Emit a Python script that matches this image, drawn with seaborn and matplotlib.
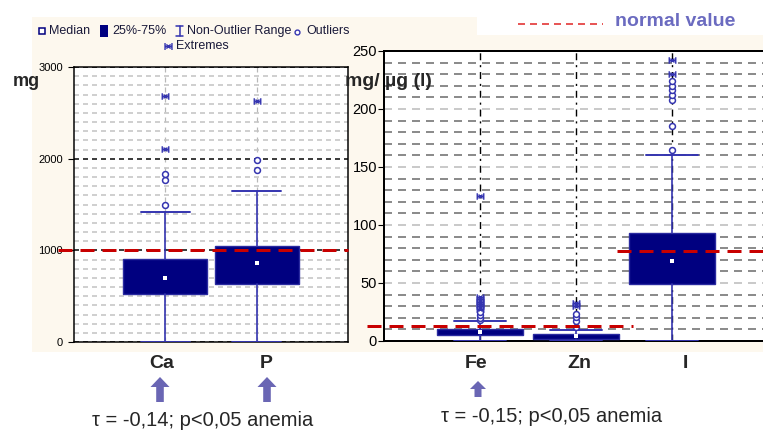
import numpy as np
import pandas as pd
import matplotlib
matplotlib.use("Agg")
import matplotlib.pyplot as plt
import seaborn as sns
from matplotlib.patches import Rectangle, Polygon
from matplotlib.path import Path

# ---------------- data ----------------
left_cats = ["Ca", "P"]
left_q1 = [522, 630]
left_med = [696, 858]
left_q3 = [902, 1043]
left_wlo = [0, 0]
left_whi = [1413, 1652]
ca_outliers = [1500, 1765, 1830]
ca_extremes = [2110, 2680]
p_outliers = [1880, 1990]
p_extremes = [2630]
left_norm = 1000

right_cats = ["Fe", "Zn", "I"]
right_q1 = [5.2, 1.7, 49]
right_med = [7.8, 4.3, 69]
right_q3 = [10.3, 6.0, 93]
right_wlo = [0, 0, 0]
right_whi = [17, 9.5, 160]
fe_outliers = [18, 20, 22, 25]
fe_extremes = [28, 30, 32, 34, 36, 38, 125]
zn_outliers = [12, 17, 21, 23]
zn_extremes = [30, 33]
i_outliers = [165, 185, 208, 212, 216, 220, 224]
i_extremes = [230, 242]
norm_fe_zn = 13
norm_i = 77.5

left_yticks = [0, 1000, 2000, 3000]
right_yticks = [0, 50, 100, 150, 200, 250]
legend_items = ["Median", "25%-75%", "Non-Outlier Range", "Outliers", "Extremes"]
stat_texts = ["\u03c4 = -0,14; p<0,05 anemia", "\u03c4 = -0,15; p<0,05 anemia"]

# ---------------- style ----------------
sns.set_style("white")
plt.rcParams['font.family'] = ['Liberation Sans', 'DejaVu Sans']
plt.rcParams['lines.scale_dashes'] = False

NAVY = "#000080"
EDGE = "#2a2aa0"
BLUE = "#3535b0"
RED = "#c80000"
CREAM = "#fdf8ee"
ARROW = "#6a66b4"
PX = 0.72  # points per pixel

# "extreme" marker: H-shape with a small cross (Statistica style)
_v = [(-1, -1), (-1, 1), (1, -1), (1, 1), (-1, 0), (1, 0), (-0.6, -0.6), (0.6, 0.6), (-0.6, 0.6), (0.6, -0.6)]
_c = [Path.MOVETO, Path.LINETO] * 5
EXT = Path(_v, _c)

W, H = 763, 430
fig = plt.figure(figsize=(W / 100, H / 100), dpi=100)
fig.patch.set_facecolor("white")


def fx(px):
    return px / W


def fy(py):
    return 1 - py / H


def dash(on, off):
    return (0, (on * PX, off * PX))


# backgrounds
fig.patches.append(Rectangle((fx(32), fy(352)), fx(763) - fx(32), fy(17) - fy(352),
                             transform=fig.transFigure, facecolor=CREAM, edgecolor="none", zorder=-2))
fig.patches.append(Rectangle((fx(477), fy(35)), 1 - fx(477), 1 - fy(35),
                             transform=fig.transFigure, facecolor="white", edgecolor="none", zorder=-1))

axL = fig.add_axes([fx(74), fy(342), (348 - 74) / W, (342 - 67) / H])
axR = fig.add_axes([fx(384), fy(341), (768 - 384) / W, (341 - 51) / H])


def draw_boxes(ax, q1, med, q3, wlo, whi, cats, width, capw):
    pos = list(range(1, len(cats) + 1))
    stats = [dict(med=m, q1=a, q3=b, whislo=lo, whishi=hi, fliers=[], label=c)
             for m, a, b, lo, hi, c in zip(med, q1, q3, wlo, whi, cats)]
    ax.bxp(stats, positions=pos, widths=width, capwidths=capw, patch_artist=True,
           showfliers=False, manage_ticks=False,
           boxprops=dict(facecolor=NAVY, edgecolor=EDGE, linewidth=1.0, zorder=3),
           whiskerprops=dict(color=BLUE, linewidth=1.2, zorder=3),
           capprops=dict(color=BLUE, linewidth=1.4, zorder=3),
           medianprops=dict(color=NAVY, linewidth=0))
    sns.scatterplot(x=pos, y=med, ax=ax, marker="s", s=9, color="white",
                    edgecolor="none", zorder=5, legend=False)


def draw_points(ax, groups, kind):
    xs, ys = [], []
    for i, vals in enumerate(groups):
        xs += [i + 1] * len(vals)
        ys += list(vals)
    df = pd.DataFrame({"x": xs, "y": ys})
    if kind == "out":
        sns.scatterplot(data=df, x="x", y="y", ax=ax, marker="o", s=18, color="white",
                        edgecolor=BLUE, linewidth=1.1, zorder=6, legend=False)
    else:
        sns.scatterplot(data=df, x="x", y="y", ax=ax, marker=EXT, s=22, color=BLUE,
                        edgecolor=BLUE, linewidth=1.0, zorder=6, legend=False)


# ---------------- left panel ----------------
axL.set_facecolor("white")
axL.set_ylim(0, 3000)
axL.set_xlim(0, 3)
axL.set_yticks(left_yticks)
axL.set_yticks(np.arange(0, 3001, 100), minor=True)
axL.set_xticks([1, 2])
axL.set_xticklabels([])
axL.set_axisbelow(True)
axL.grid(which="minor", axis="y", color="#c4c4c4", linewidth=1.2 * PX * 1.3, linestyle=dash(5, 4))
axL.grid(which="major", axis="y", color="black", linewidth=1.5 * PX, linestyle=dash(5, 4))
axL.grid(which="major", axis="x", color="#b8b8b8", linewidth=1.2 * PX, linestyle=dash(5, 5))
axL.tick_params(axis="y", which="major", direction="out", length=4, width=0.8, pad=4,
                labelsize=8, left=True, colors="black")
axL.tick_params(axis="y", which="minor", length=0)
axL.tick_params(axis="x", length=0)
for s in axL.spines.values():
    s.set_color("black")
    s.set_linewidth(1.5 * PX)

draw_boxes(axL, left_q1, left_med, left_q3, left_wlo, left_whi, left_cats, 0.92, 0.54)
draw_points(axL, [ca_outliers, p_outliers], "out")
draw_points(axL, [ca_extremes, p_extremes], "ext")
axL.set_xlim(0, 3)
axL.set_ylim(0, 3000)
axL.set_xlabel("")
axL.set_ylabel("")
axL.plot([-0.058, 1.0], [left_norm, left_norm], transform=axL.get_yaxis_transform(),
         color=RED, linewidth=3 * PX, linestyle=dash(14, 8), clip_on=False, zorder=7)

# ---------------- right panel ----------------
axR.set_facecolor("white")
axR.set_ylim(0, 250)
axR.set_xlim(0, 4)
axR.set_yticks(right_yticks)
axR.set_yticks(np.arange(0, 251, 10), minor=True)
axR.set_xticks([1, 2, 3])
axR.set_xticklabels([])
axR.set_axisbelow(True)
axR.grid(which="minor", axis="y", color="#8c8c8c", linewidth=2 * PX, linestyle=dash(8, 6))
axR.grid(which="major", axis="y", color="#cacaca", linewidth=2 * PX, linestyle=dash(8, 6))
axR.grid(which="major", axis="x", color="black", linewidth=1.4 * PX, linestyle=(0, (5, 3.5, 1.5, 3.5)))
axR.tick_params(axis="y", which="major", direction="out", length=4, width=0.8, pad=1,
                labelsize=10.5, left=True, colors="black")
axR.tick_params(axis="y", which="minor", length=0)
axR.tick_params(axis="x", length=0)
for s in axR.spines.values():
    s.set_color("black")
    s.set_linewidth(2 * PX)

draw_boxes(axR, right_q1, right_med, right_q3, right_wlo, right_whi, right_cats, 0.9, 0.55)
draw_points(axR, [fe_outliers, zn_outliers, i_outliers], "out")
draw_points(axR, [fe_extremes, zn_extremes, i_extremes], "ext")
axR.set_xlim(0, 4)
axR.set_ylim(0, 250)
axR.set_xlabel("")
axR.set_ylabel("")
axR.plot([-0.18, 2.59], [norm_fe_zn, norm_fe_zn], color=RED, linewidth=3 * PX,
         linestyle=dash(14, 8), clip_on=False, zorder=7)
axR.plot([2.43, 4.0], [norm_i, norm_i], color=RED, linewidth=3 * PX,
         linestyle=dash(14, 8), clip_on=False, zorder=7)

# ---------------- texts ----------------
fig.text(fx(26), fy(82), "mg", fontsize=13, fontweight="bold", ha="center", va="center")
fig.text(fx(345), fy(82), "mg/ \u00b5g (l)", fontsize=14, fontweight="bold", ha="left",
         va="center", zorder=10)

cat_x = [162, 266, 476, 579, 685]
for c, x in zip(left_cats + right_cats, cat_x):
    fig.text(fx(x), fy(364), c, fontsize=14, fontweight="bold", ha="center", va="center")

fig.text(fx(203), fy(421), stat_texts[0], fontsize=14.5, ha="center", va="center")
fig.text(fx(552), fy(416), stat_texts[1], fontsize=14.5, ha="center", va="center")


def up_arrow(cx, yt, yb, sw, hw, hl):
    pts = [(cx - sw, yb), (cx - sw, yt + hl), (cx - hw, yt + hl), (cx, yt),
           (cx + hw, yt + hl), (cx + sw, yt + hl), (cx + sw, yb)]
    fig.patches.append(Polygon([(fx(a), fy(b)) for a, b in pts], closed=True,
                               transform=fig.transFigure, facecolor=ARROW, edgecolor="none"))


up_arrow(160, 377, 402, 3.8, 9.5, 10)
up_arrow(267, 377, 402, 3.8, 9.5, 10)
up_arrow(478, 381, 397, 3.5, 8, 8)

# normal value legend
fig.lines.append(plt.Line2D([fx(518), fx(603)], [fy(24), fy(24)], transform=fig.transFigure,
                            color="#e02020", linewidth=1.5 * PX, linestyle=dash(7, 5)))
fig.text(fx(615), fy(22), "normal value", fontsize=14, fontweight="bold", color="#6b6bc0",
         ha="left", va="center")

# box legend (top-left)
LEGC = "#1a1a3a"
ly1, ly2 = 31, 46
fig.lines.append(plt.Line2D([fx(42)], [fy(ly1)], transform=fig.transFigure, marker="s",
                            markersize=4, markerfacecolor="white", markeredgecolor=NAVY,
                            markeredgewidth=1.1, linestyle="none"))
fig.text(fx(49), fy(ly1), legend_items[0], fontsize=9, color=LEGC, ha="left", va="center")
fig.patches.append(Rectangle((fx(100), fy(ly1 + 6)), 8 / W, 12 / H, transform=fig.transFigure,
                             facecolor=NAVY, edgecolor="none"))
fig.text(fx(112), fy(ly1), legend_items[1], fontsize=9, color=LEGC, ha="left", va="center")
# I-beam symbol
for seg in [([176, 183], [ly1 - 5, ly1 - 5]), ([179.5, 179.5], [ly1 - 5, ly1 + 5]),
            ([176, 183], [ly1 + 5, ly1 + 5])]:
    fig.lines.append(plt.Line2D([fx(v) for v in seg[0]], [fy(v) for v in seg[1]],
                                transform=fig.transFigure, color=BLUE, linewidth=1.2 * PX * 1.3))
fig.text(fx(187), fy(ly1), legend_items[2], fontsize=9, color=LEGC, ha="left", va="center")
fig.lines.append(plt.Line2D([fx(297)], [fy(ly1 + 1)], transform=fig.transFigure, marker="o",
                            markersize=3.5, markerfacecolor="white", markeredgecolor=BLUE,
                            markeredgewidth=1.0, linestyle="none"))
fig.text(fx(306), fy(ly1), legend_items[3], fontsize=9, color=LEGC, ha="left", va="center")
fig.lines.append(plt.Line2D([fx(168)], [fy(ly2)], transform=fig.transFigure, marker=EXT,
                            markersize=5, color=BLUE, markeredgewidth=1.0, linestyle="none"))
fig.text(fx(176), fy(ly2), legend_items[4], fontsize=9, color=LEGC, ha="left", va="center")

fig.savefig("out.png", dpi=100)
